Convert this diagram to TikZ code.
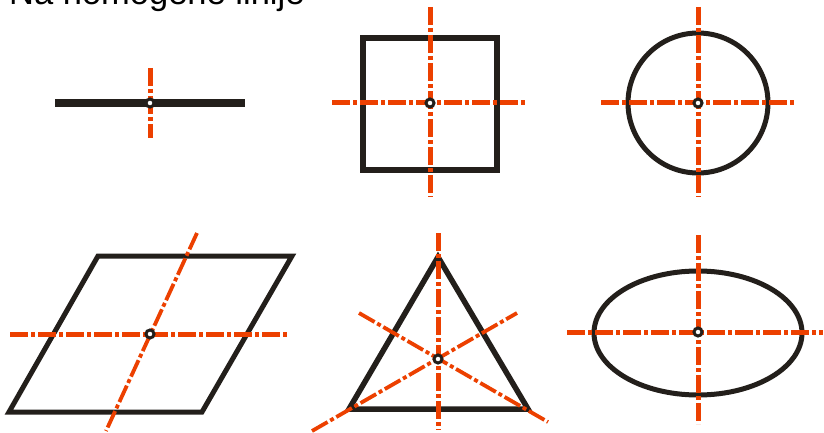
\documentclass[tikz,border=0pt]{standalone}
\usepackage{fontspec}
\setmainfont{Liberation Sans}
\definecolor{axisred}{RGB}{236,64,0}
\definecolor{inkblack}{RGB}{35,31,27}
\tikzset{
  centreline/.style={axisred, line width=5pt, dash pattern=on 18pt off 3pt on 4pt off 3pt},
  slantline/.style={centreline, line width=3.8pt},
  contour/.style={inkblack, line width=5.5pt},
  pivot/.style={inkblack, line width=3pt, fill=white},
}
\begin{document}
\begin{tikzpicture}[x=1pt, y=-1pt]
\useasboundingbox (0,0) rectangle (824,433);
\node[anchor=base west, inner sep=0pt, font=\fontsize{34.5}{40}\selectfont] (title) at (9,5) {Na homogene linije};
% Bar
\draw[contour, line width=7.7pt] (55,103) -- (245,103);
\draw[centreline] (150,68) -- (150,138);
\draw[pivot] (150,103) circle (4pt);
% Square
\draw[contour] (363,38) rectangle (497,170);
\draw[centreline] (332,103) -- (525,103);
\draw[centreline] (430,7) -- (430,197);
\draw[pivot] (430,103) circle (4pt);
% Circle
\draw[contour, line width=5pt] (698,103) circle (70pt);
\draw[centreline] (601,103) -- (795,103);
\draw[centreline] (698,7) -- (698,197);
\draw[pivot] (698,103) circle (4pt);
% Parallelogram
\draw[contour, line width=5pt] (98,256) -- (292,256) -- (202,412) -- (9,412) -- cycle;
\draw[centreline] (10,334) -- (288,334);
\draw[slantline] (197,233) -- (106,431);
\draw[pivot] (150,334) circle (4pt);
% Triangle, medians through the centroid
\draw[contour] (438,257) -- (528,409) -- (349,409) -- cycle;
\draw[centreline] (438,233) -- (438,430);
\draw[slantline] (312,431) -- (517,313);
\draw[slantline] (359,313) -- (548,422);
\draw[pivot] (438,359) circle (4pt);
% Ellipse
\draw[contour, line width=5pt] (698,333) ellipse (104pt and 62pt);
\draw[centreline] (567,332) -- (823,332);
\draw[centreline] (698,235) -- (698,424);
\draw[pivot] (698,332) circle (4pt);
\end{tikzpicture}
\end{document}
